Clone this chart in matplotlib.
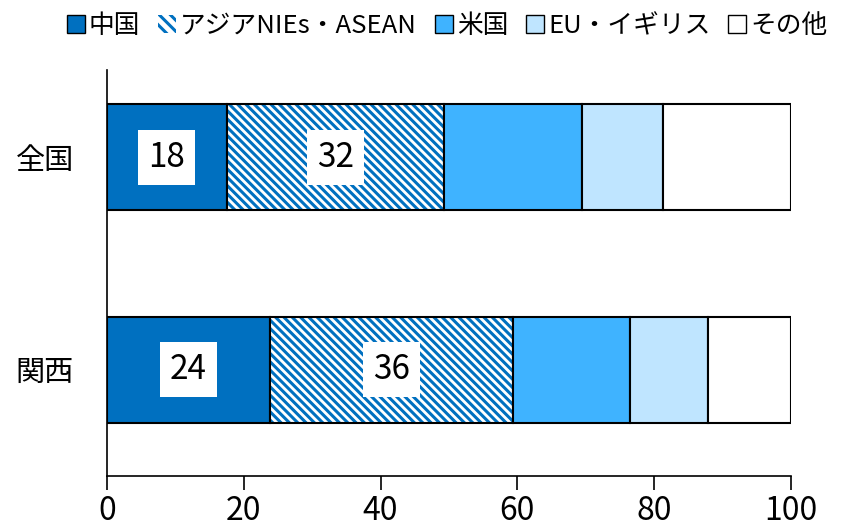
import numpy as np
import matplotlib.pyplot as plt
from matplotlib.patches import Patch

plt.rcParams['font.family'] = ['Noto Sans CJK JP', 'DejaVu Sans']
plt.rcParams['hatch.linewidth'] = 2.2

# 構成比（%）
regions = ['関西', '全国']
series = ['中国', 'アジアNIEs・ASEAN', '米国', 'EU・イギリス', 'その他']
china = [23.8, 17.5]
asia = [35.6, 31.8]
usa = [17.1, 20.1]
eu = [11.4, 11.9]
other = [12.1, 18.7]

colors = ['#0070C0', 'white', '#3FB3FF', '#BFE5FF', 'white']
hatch_color = '#0070C0'
hatch = '\\\\\\\\'

fig = plt.figure(figsize=(8.6, 5.32), dpi=100)
ax = fig.add_axes([0.1244, 0.1053, 0.7954, 0.7631])

y = np.arange(len(regions))
h = 0.5
left = np.zeros(len(regions))
for name, vals, c in zip(series, [china, asia, usa, eu, other], colors):
    vals = np.array(vals)
    if name == 'アジアNIEs・ASEAN':
        ax.barh(y, vals, h, left=left, color='white', edgecolor=hatch_color,
                hatch=hatch, linewidth=0)
        ax.barh(y, vals, h, left=left, fill=False, edgecolor='black', linewidth=1.5)
    else:
        ax.barh(y, vals, h, left=left, color=c, edgecolor='black', linewidth=1.5)
    # 中国とアジアNIEs・ASEANだけ数値を表示
    if name in ('中国', 'アジアNIEs・ASEAN'):
        for yi, l, v in zip(y, left, vals):
            ax.text(l + v / 2, yi, f'{v:.0f}', ha='center', va='center', fontsize=24,
                    bbox=dict(facecolor='white', edgecolor='none', boxstyle='square,pad=0.3'))
    left += vals

ax.set_xlim(0, 100)
ax.set_ylim(-0.5, 1.41)
ax.set_xticks([0, 20, 40, 60, 80, 100])
ax.set_yticks(y)
ax.set_yticklabels(regions)
ax.tick_params(axis='x', labelsize=23, length=10, width=1.2, pad=4)
ax.tick_params(axis='y', labelsize=21, length=0, pad=24)
ax.spines['top'].set_visible(False)
ax.spines['right'].set_visible(False)
ax.spines['left'].set_linewidth(1.2)
ax.spines['bottom'].set_linewidth(1.2)

handles = [
    Patch(facecolor='#0070C0', edgecolor='black'),
    Patch(facecolor='white', edgecolor=hatch_color, hatch='\\\\\\', linewidth=0),
    Patch(facecolor='#3FB3FF', edgecolor='black'),
    Patch(facecolor='#BFE5FF', edgecolor='black'),
    Patch(facecolor='white', edgecolor='black'),
]
fig.legend(handles, series, loc='center', bbox_to_anchor=(0.52, 0.951), ncol=5,
           frameon=False, fontsize=18.5, handlelength=0.7, handleheight=0.7,
           handletextpad=0.15, columnspacing=0.7, borderaxespad=0)

fig.savefig('out.png', dpi=100)
